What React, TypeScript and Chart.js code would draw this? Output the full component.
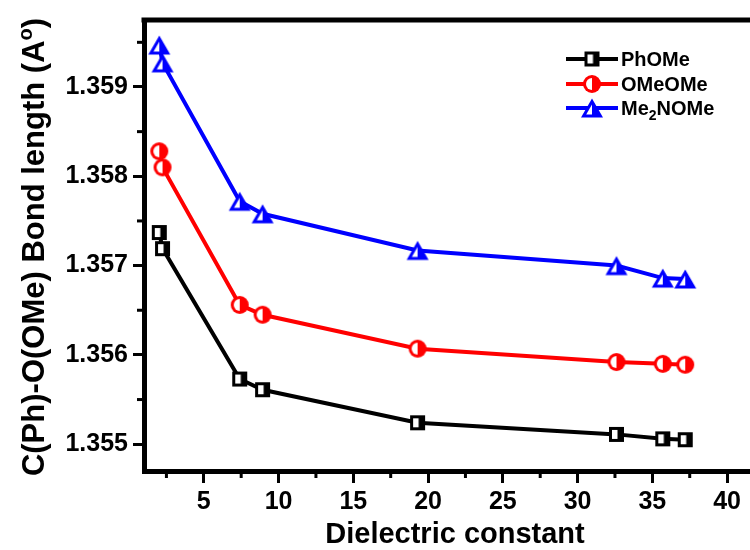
import React, { useEffect, useRef } from "react";
import { Chart, registerables } from "chart.js";

Chart.register(...registerables);

// ---- data ----
const dielectric = [2.02, 2.24, 7.4, 8.93, 19.3, 32.6, 35.7, 37.2];
const phOMe = [1.35737, 1.35719, 1.35573, 1.35561, 1.35524, 1.35511, 1.35506, 1.35505];
const oMeOMe = [1.35828, 1.3581, 1.35656, 1.35645, 1.35607, 1.35592, 1.3559, 1.35589];
const me2NOMe = [1.35947, 1.35927, 1.35772, 1.35758, 1.35717, 1.357, 1.35686, 1.35685];
const seriesLabels = ["PhOMe", "OMeOMe", "Me2NOMe"];
const xTickValues = [5, 10, 15, 20, 25, 30, 35, 40];
const xMinorValues = [2.5, 7.5, 12.5, 17.5, 22.5, 27.5, 32.5, 37.5];
const yTickValues = [1.355, 1.356, 1.357, 1.358, 1.359];
const yMinorValues = [1.3555, 1.3565, 1.3575, 1.3585, 1.3595];
const xTitle = "Dielectric constant";
const yTitleMain = "C(Ph)-O(OMe) Bond length (A";
const yTitleSup = "o";
const yTitleEnd = ")";

const FONT = "'Liberation Sans', Arial, sans-serif";
const BLACK = "#000000";
const RED = "#ff0000";
const BLUE = "#0000ff";

function makeSquare(color: string) {
  const c = document.createElement("canvas");
  c.width = 17;
  c.height = 17;
  const g = c.getContext("2d")!;
  g.fillStyle = color;
  g.fillRect(1, 1, 15, 15);
  g.fillStyle = "#ffffff";
  g.fillRect(4, 4, 5.5, 9);
  return c;
}

function makeCircle(color: string) {
  const c = document.createElement("canvas");
  c.width = 20;
  c.height = 20;
  const g = c.getContext("2d")!;
  g.fillStyle = color;
  g.beginPath();
  g.arc(10, 10, 9, 0, Math.PI * 2);
  g.fill();
  g.fillStyle = "#ffffff";
  g.beginPath();
  g.arc(10, 10, 6, Math.PI / 2, (3 * Math.PI) / 2);
  g.closePath();
  g.fill();
  return c;
}

function makeTriangle(color: string) {
  const c = document.createElement("canvas");
  c.width = 24;
  c.height = 22;
  const g = c.getContext("2d")!;
  g.fillStyle = color;
  g.beginPath();
  g.moveTo(12, 1.5);
  g.lineTo(1, 20.5);
  g.lineTo(23, 20.5);
  g.closePath();
  g.fill();
  g.fillStyle = "#ffffff";
  g.beginPath();
  g.moveTo(12, 7.5);
  g.lineTo(6.2, 17.5);
  g.lineTo(12, 17.5);
  g.closePath();
  g.fill();
  return c;
}

export default function App() {
  const ref = useRef<HTMLCanvasElement | null>(null);

  useEffect(() => {
    if (!ref.current) return;
    const sq = makeSquare(BLACK);
    const ci = makeCircle(RED);
    const tr = makeTriangle(BLUE);
    const colors = [BLACK, RED, BLUE];
    const markers = [sq, ci, tr];
    const values = [phOMe, oMeOMe, me2NOMe];

    const decorPlugin = {
      id: "decor",
      afterDraw(chart: any) {
        const ctx = chart.ctx as CanvasRenderingContext2D;
        const area = chart.chartArea;
        const xs = chart.scales.x;
        const ys = chart.scales.y;
        ctx.save();
        // top border
        ctx.strokeStyle = BLACK;
        ctx.lineWidth = 5;
        ctx.beginPath();
        ctx.moveTo(area.left - 2.5, area.top);
        ctx.lineTo(area.right + 2.5, area.top);
        ctx.stroke();
        ctx.beginPath();
        ctx.moveTo(area.right, area.top);
        ctx.lineTo(area.right, area.bottom);
        ctx.stroke();
        // minor ticks
        ctx.lineWidth = 3;
        for (const v of xMinorValues) {
          const px = xs.getPixelForValue(v);
          ctx.beginPath();
          ctx.moveTo(px, area.bottom);
          ctx.lineTo(px, area.bottom + 7);
          ctx.stroke();
        }
        for (const v of yMinorValues) {
          const py = ys.getPixelForValue(v);
          ctx.beginPath();
          ctx.moveTo(area.left, py);
          ctx.lineTo(area.left - 7, py);
          ctx.stroke();
        }
        // x title
        ctx.fillStyle = BLACK;
        ctx.font = `bold 29px ${FONT}`;
        ctx.textAlign = "center";
        ctx.textBaseline = "alphabetic";
        ctx.fillText(xTitle, 455, 543);
        // y title
        ctx.save();
        ctx.translate(33, 247);
        ctx.rotate(-Math.PI / 2);
        const mainFont = `bold 31px ${FONT}`;
        const supFont = `bold 20px ${FONT}`;
        ctx.font = mainFont;
        const w1 = ctx.measureText(yTitleMain).width;
        const w3 = ctx.measureText(yTitleEnd).width;
        ctx.font = supFont;
        const w2 = ctx.measureText(yTitleSup).width;
        const total = w1 + w2 + w3;
        let x0 = -total / 2;
        ctx.textAlign = "left";
        ctx.textBaseline = "alphabetic";
        ctx.font = mainFont;
        ctx.fillText(yTitleMain, x0, 11);
        ctx.font = supFont;
        ctx.fillText(yTitleSup, x0 + w1, -1);
        ctx.font = mainFont;
        ctx.fillText(yTitleEnd, x0 + w1 + w2, 11);
        ctx.restore();
        // legend
        const rows = [59, 84, 108];
        for (let i = 0; i < 3; i++) {
          const y = rows[i];
          ctx.strokeStyle = colors[i];
          ctx.lineWidth = 4;
          ctx.beginPath();
          ctx.moveTo(566, y);
          ctx.lineTo(618, y);
          ctx.stroke();
          const m = markers[i];
          ctx.drawImage(m, 592 - m.width / 2, y - m.height / 2);
          ctx.fillStyle = BLACK;
          ctx.textAlign = "left";
          ctx.textBaseline = "alphabetic";
          const lbl = seriesLabels[i];
          const bigFont = `bold 20px ${FONT}`;
          const subFont = `bold 14px ${FONT}`;
          if (lbl.indexOf("2") >= 0) {
            const parts = lbl.split("2");
            let tx = 621;
            ctx.font = bigFont;
            ctx.fillText(parts[0], tx, y + 7);
            tx += ctx.measureText(parts[0]).width;
            ctx.font = subFont;
            ctx.fillText("2", tx, y + 12);
            tx += ctx.measureText("2").width;
            ctx.font = bigFont;
            ctx.fillText(parts[1], tx, y + 7);
          } else {
            ctx.font = bigFont;
            ctx.fillText(lbl, 621, y + 7);
          }
        }
        ctx.restore();
      },
    };

    const chart = new Chart(ref.current, {
      type: "line",
      data: {
        datasets: values.map((arr, i) => ({
          label: seriesLabels[i],
          data: dielectric.map((x, j) => ({ x, y: arr[j] })),
          borderColor: colors[i],
          backgroundColor: colors[i],
          borderWidth: 4,
          pointStyle: markers[i] as any,
          pointRadius: 9,
          pointHoverRadius: 9,
          tension: 0,
          fill: false,
          clip: false as any,
        })),
      },
      options: {
        responsive: false,
        animation: false,
        devicePixelRatio: 1,
        layout: { padding: { top: 15, right: 12, left: 0, bottom: 0 } },
        plugins: {
          legend: { display: false },
          tooltip: { enabled: false },
          title: { display: false },
        },
        scales: {
          x: {
            type: "linear",
            min: 1,
            max: 42,
            afterBuildTicks: (s: any) => {
              s.ticks = xTickValues.map((v) => ({ value: v }));
            },
            afterFit: (s: any) => {
              s.height = 79;
            },
            border: { display: true, color: BLACK, width: 5 },
            grid: {
              display: true,
              drawOnChartArea: false,
              drawTicks: true,
              tickLength: 12,
              tickWidth: 3,
              tickColor: BLACK,
              color: BLACK,
            },
            ticks: {
              color: BLACK,
              font: { family: FONT, size: 25, weight: "bold" },
              padding: 4,
              maxRotation: 0,
              autoSkip: false,
              callback: (v: any) => String(v),
            },
          },
          y: {
            type: "linear",
            min: 1.3547,
            max: 1.35975,
            afterBuildTicks: (s: any) => {
              s.ticks = yTickValues.map((v) => ({ value: v }));
            },
            afterFit: (s: any) => {
              s.width = 144;
            },
            border: { display: true, color: BLACK, width: 5 },
            grid: {
              display: true,
              drawOnChartArea: false,
              drawTicks: true,
              tickLength: 11,
              tickWidth: 3,
              tickColor: BLACK,
              color: BLACK,
            },
            ticks: {
              color: BLACK,
              font: { family: FONT, size: 25, weight: "bold" },
              padding: 5,
              autoSkip: false,
              callback: (v: any) => Number(v).toFixed(3),
            },
          },
        },
      },
      plugins: [decorPlugin],
    } as any);

    return () => chart.destroy();
  }, []);

  return (
    <div
      style={{
        position: "fixed",
        left: 0,
        top: 0,
        width: 750,
        height: 550,
        overflow: "hidden",
        background: "#ffffff",
      }}
    >
      <canvas ref={ref} width={770} height={550} style={{ display: "block" }} />
    </div>
  );
}
